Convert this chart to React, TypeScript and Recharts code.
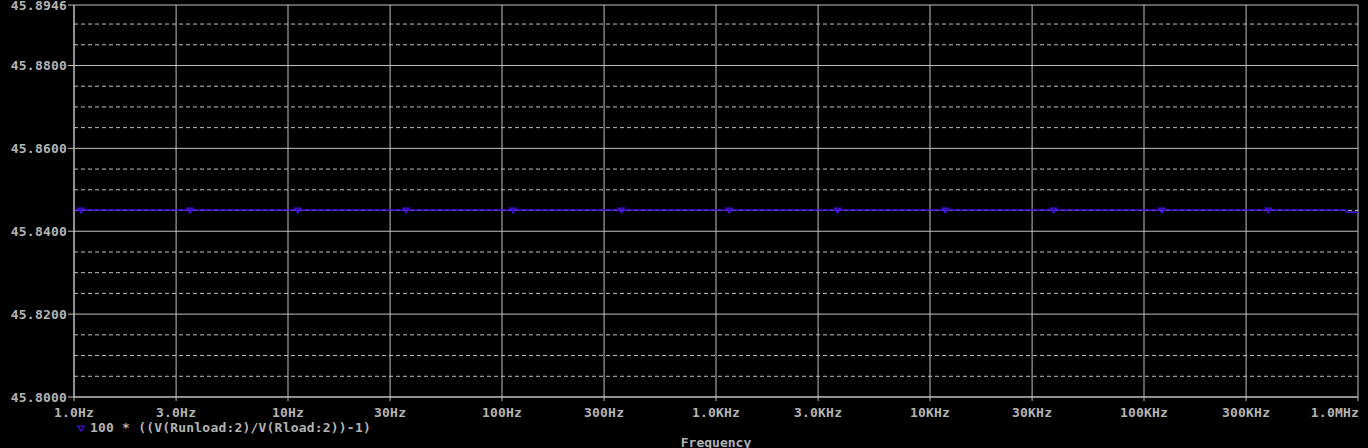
import { CartesianGrid, Line, LineChart, ReferenceLine, XAxis, YAxis } from 'recharts';

const frequencies = [1, 1.078, 3.48, 11.1, 35.6, 112.7, 361, 1153, 3700, 11800, 37800, 121000, 381000, 870000, 890000, 1000000];
const gainValues = [45.8451, 45.8451, 45.8451, 45.8451, 45.8451, 45.8451, 45.8451, 45.8451, 45.8451, 45.8451, 45.8451, 45.8451, 45.8451, 45.8451, 45.8446, 45.8446];
const markerFrequencies = [1.078, 3.48, 11.1, 35.6, 112.7, 361, 1153, 3700, 11800, 37800, 121000, 381000];

const xTicks = [1, 3, 10, 30, 100, 300, 1000, 3000, 10000, 30000, 100000, 300000, 1000000];
const xTickLabels = ['1.0Hz', '3.0Hz', '10Hz', '30Hz', '100Hz', '300Hz', '1.0KHz', '3.0KHz', '10KHz', '30KHz', '100KHz', '300KHz', '1.0MHz'];
const yTicks = [45.8, 45.82, 45.84, 45.86, 45.88, 45.8946];
const yMinorTicks = [45.805, 45.81, 45.815, 45.825, 45.83, 45.835, 45.845, 45.85, 45.855, 45.865, 45.87, 45.875, 45.885, 45.89];

const seriesName = '100 * ((V(Runload:2)/V(Rload:2))-1)';
const xAxisTitle = 'Frequency';

const data = frequencies.map((f, i) => ({ freq: f, value: gainValues[i], marker: markerFrequencies.includes(f) }));

const GRID = '#c0c0c0';
const TEXT = '#b4b4b4';
const TRACE = '#4a12e8';
const FONT = "'DejaVu Sans Mono', monospace";

const tickStyle = { fill: TEXT, fontSize: 13, fontFamily: FONT, fontWeight: 'bold' as const, letterSpacing: 0.2 };

function TriangleDot(props: any) {
  const { cx, cy, payload, index } = props;
  if (!payload?.marker || cx == null || cy == null) return <g key={`d${index}`} />;
  return (
    <path
      key={`d${index}`}
      d={`M${cx - 3},${cy - 2} L${cx + 3},${cy - 2} L${cx},${cy + 3} Z`}
      fill="none"
      stroke={TRACE}
      strokeWidth={1.2}
    />
  );
}

function FreqTick(props: any) {
  const { x, y, payload, index } = props;
  const last = index === xTicks.length - 1;
  const label = xTickLabels[xTicks.indexOf(payload.value)] ?? '';
  return (
    <text x={last ? x + 1 : x} y={y} dy="0.71em" textAnchor={last ? 'end' : 'middle'} {...tickStyle}>
      {label}
    </text>
  );
}

export default function App() {
  return (
    <div style={{ position: 'fixed', left: 0, top: 0, width: 1368, height: 448, background: '#000', overflow: 'hidden' }}>
      <LineChart width={1368} height={448} data={data} margin={{ top: 5, right: 10, bottom: 0, left: 0 }}>
        <CartesianGrid stroke={GRID} strokeWidth={1} />
        {yMinorTicks.map((v) => (
          <ReferenceLine key={v} y={v} stroke={GRID} strokeDasharray="4 3" strokeWidth={1} />
        ))}
        <XAxis
          dataKey="freq"
          type="number"
          scale="log"
          domain={[1, 1000000]}
          ticks={xTicks}
          interval={0}
          height={51}
          stroke={GRID}
          tickSize={4}
          tickMargin={7}
          tick={FreqTick}
          allowDataOverflow
        />
        <YAxis
          type="number"
          domain={[45.8, 45.8946]}
          ticks={yTicks}
          tickFormatter={(v) => Number(v).toFixed(4)}
          interval={0}
          width={74}
          stroke={GRID}
          tickSize={6}
          tickMargin={1}
          tick={tickStyle}
          allowDataOverflow
        />
        <Line
          dataKey="value"
          type="linear"
          stroke={TRACE}
          strokeWidth={1.5}
          dot={TriangleDot}
          activeDot={false}
          isAnimationActive={false}
        />
      </LineChart>
      <div
        style={{
          position: 'absolute',
          left: 76,
          top: 420,
          display: 'flex',
          alignItems: 'center',
          fontFamily: FONT,
          fontWeight: 'bold',
          fontSize: 13,
          letterSpacing: 0.2,
          color: TEXT,
          whiteSpace: 'pre',
        }}
      >
        <svg width={10} height={10} style={{ marginRight: 4 }}>
          <path d="M2,3 L8,3 L5,8 Z" fill="none" stroke={TRACE} strokeWidth={1.2} />
        </svg>
        <span>{seriesName}</span>
      </div>
      <div
        style={{
          position: 'absolute',
          left: 74,
          width: 1284,
          top: 435,
          textAlign: 'center',
          fontFamily: FONT,
          fontWeight: 'bold',
          fontSize: 13,
          color: TEXT,
        }}
      >
        {xAxisTitle}
      </div>
    </div>
  );
}
